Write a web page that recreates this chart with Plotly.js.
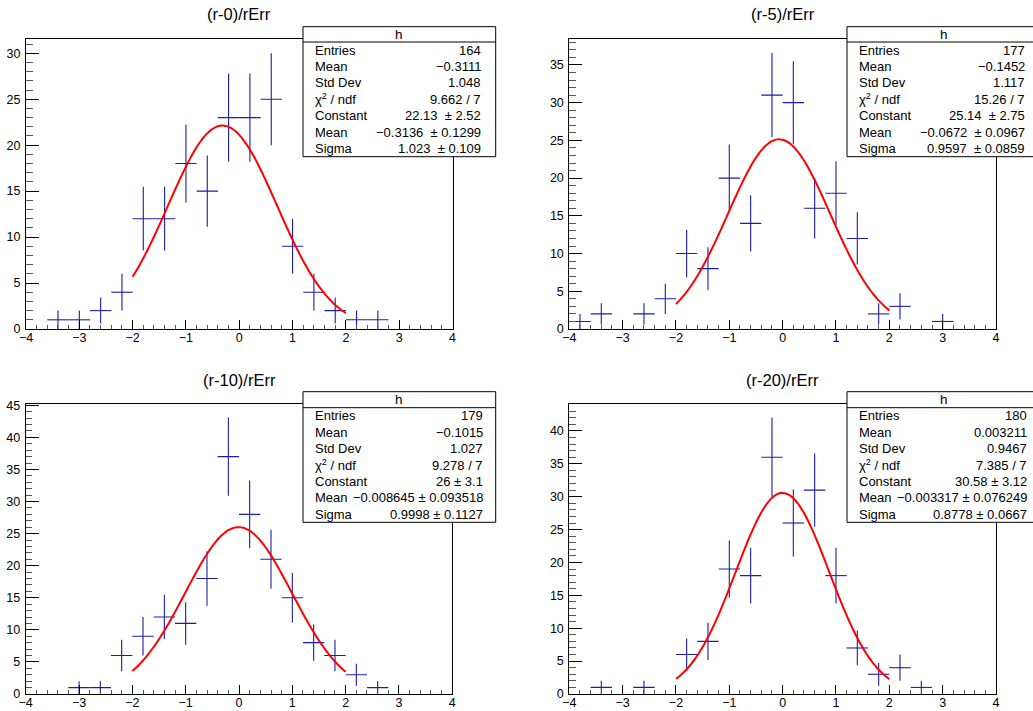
<!DOCTYPE html>
<html>
<head>
<meta charset="utf-8">
<script src="https://cdn.plot.ly/plotly-3.0.1.min.js"></script>
<style>html,body{margin:0;padding:0;background:#fff;}#chart{width:1033px;height:711px;}</style>
</head>
<body>
<div id="chart"></div>
<script>
// ---------------- DATA ----------------
const TITLES = ["(r-0)/rErr", "(r-5)/rErr", "(r-10)/rErr", "(r-20)/rErr"];

// bin centres (bin width 0.4) and counts, non-empty bins only
const X_R0  = [-3.4, -3.0, -2.6, -2.2, -1.8, -1.4, -1.0, -0.6, -0.2, 0.2, 0.6, 1.0, 1.4, 1.8, 2.2, 2.6];
const N_R0  = [1, 1, 2, 4, 12, 12, 18, 15, 23, 23, 25, 9, 4, 2, 1, 1];

const X_R5  = [-3.8, -3.4, -2.6, -2.2, -1.8, -1.4, -1.0, -0.6, -0.2, 0.2, 0.6, 1.0, 1.4, 1.8, 2.2, 3.0];
const N_R5  = [1, 2, 2, 4, 10, 8, 20, 14, 31, 30, 16, 18, 12, 2, 3, 1];

const X_R10 = [-3.0, -2.6, -2.2, -1.8, -1.4, -1.0, -0.6, -0.2, 0.2, 0.6, 1.0, 1.4, 1.8, 2.2, 2.6];
const N_R10 = [1, 1, 6, 9, 12, 11, 18, 37, 28, 21, 15, 8, 6, 3, 1];

const X_R20 = [-3.4, -2.6, -1.8, -1.4, -1.0, -0.6, -0.2, 0.2, 0.6, 1.0, 1.4, 1.8, 2.2, 2.6];
const N_R20 = [1, 1, 6, 8, 19, 18, 36, 26, 31, 18, 7, 3, 4, 1];

// Gaussian fit parameters [Constant, Mean, Sigma], fit range [-2, 2]
const FIT_R0  = [22.13, -0.3136, 1.023];
const FIT_R5  = [25.14, -0.0672, 0.9597];
const FIT_R10 = [26, -0.008645, 0.9998];
const FIT_R20 = [30.58, -0.003317, 0.8778];
const FIT_RANGE = [-2, 2];

// stat box contents
const STAT_LABELS = ["Entries", "Mean", "Std Dev", "\u03c7<sup>2</sup> / ndf", "Constant", "Mean", "Sigma"];
const STATS_R0  = ["164", "\u22120.3111", "1.048", "9.662 / 7", "22.13 \u00a0\u00b1 2.52", "\u22120.3136 \u00a0\u00b1 0.1299", "1.023 \u00a0\u00b1 0.109"];
const STATS_R5  = ["177", "\u22120.1452", "1.117", "15.26 / 7", "25.14 \u00a0\u00b1 2.75", "\u22120.0672 \u00a0\u00b1 0.0967", "0.9597 \u00a0\u00b1 0.0859"];
const STATS_R10 = ["179", "\u22120.1015", "1.027", "9.278 / 7", "26 \u00b1 3.1", "\u22120.008645 \u00b1 0.093518", "0.9998 \u00b1 0.1127"];
const STATS_R20 = ["180", "0.003211", "0.9467", "7.385 / 7", "30.58 \u00b1 3.12", "\u22120.003317 \u00b1 0.076249", "0.8778 \u00b1 0.0667"];

// y-axis maxima as drawn
const YMAX = [31.55, 38.4, 45.2, 44.1];

// ---------------- LAYOUT HELPERS ----------------
const W = 1033, H = 711;
const px = v => v / W;
const py = v => 1 - v / H;
const FONT = "Liberation Sans, Arial, Helvetica, sans-serif";

const panels = [
  {x: X_R0,  n: N_R0,  fit: FIT_R0,  stats: STATS_R0,  frame: [26, 452.5, 39, 329],
   box: [303, 495.7, 26.7, 156.7, 42], lblX: 312.5, valX: 482.5, titleY: 14},
  {x: X_R5,  n: N_R5,  fit: FIT_R5,  stats: STATS_R5,  frame: [569.3, 996, 39.3, 329],
   box: [847, 1040, 26.7, 156.7, 42], lblX: 856.5, valX: 1026.5, titleY: 14},
  {x: X_R10, n: N_R10, fit: FIT_R10, stats: STATS_R10, frame: [25.7, 452.3, 404, 694],
   box: [303, 495.7, 391.7, 522.3, 407.7], lblX: 312.5, valX: 485, titleY: 380},
  {x: X_R20, n: N_R20, fit: FIT_R20, stats: STATS_R20, frame: [569.3, 996, 404, 694],
   box: [847, 1040, 391.7, 522.3, 407.7], lblX: 856.5, valX: 1029.3, titleY: 380}
];

const traces = [];
const layout = {
  width: W, height: H,
  margin: {l: 0, r: 0, t: 0, b: 0},
  paper_bgcolor: "#fff", plot_bgcolor: "#fff",
  showlegend: false,
  font: {family: FONT, size: 12, color: "#000"},
  shapes: [], annotations: []
};

panels.forEach((p, i) => {
  const k = i === 0 ? "" : String(i + 1);
  const xa = "x" + k, ya = "y" + k;
  const [fx0, fx1, fy0, fy1] = p.frame;

  // histogram points with errors
  traces.push({
    type: "scatter", mode: "markers", xaxis: xa, yaxis: ya,
    x: p.x, y: p.n,
    marker: {size: 1, color: "#1c1ca8", opacity: 0},
    error_y: {type: "sqrt", visible: true, color: "#1c1ca8", thickness: 1.1, width: 0},
    error_x: {type: "constant", value: 0.2, visible: true, color: "#1c1ca8", thickness: 1.1, width: 0},
    hoverinfo: "skip"
  });

  // gaussian fit curve evaluated over the fit range
  const [c, m, s] = p.fit;
  const fxs = [], fys = [];
  const npx = 100;
  for (let j = 0; j <= npx; j++) {
    const xv = FIT_RANGE[0] + (FIT_RANGE[1] - FIT_RANGE[0]) * j / npx;
    fxs.push(xv);
    fys.push(c * Math.exp(-0.5 * Math.pow((xv - m) / s, 2)));
  }
  traces.push({
    type: "scatter", mode: "lines", xaxis: xa, yaxis: ya,
    x: fxs, y: fys, line: {color: "#ff0000", width: 2, shape: "spline"},
    hoverinfo: "skip"
  });

  layout["xaxis" + k] = {
    domain: [px(fx0), px(fx1)], anchor: ya, range: [-4, 4],
    showgrid: false, zeroline: false,
    showline: true, linecolor: "#000", linewidth: 1, mirror: true,
    ticks: "inside", ticklen: 9, tickwidth: 1, tickcolor: "#000",
    dtick: 1, tick0: 0, tickfont: {family: FONT, size: 12.5, color: "#000"},
    ticklabelstandoff: -3,
    minor: {dtick: 0.2, ticks: "inside", ticklen: 4.5, tickcolor: "#555", tickwidth: 1, showgrid: false},
    fixedrange: true
  };
  layout["yaxis" + k] = {
    domain: [py(fy1), py(fy0)], anchor: xa, range: [0, YMAX[i]],
    showgrid: false, zeroline: false,
    showline: true, linecolor: "#000", linewidth: 1, mirror: true,
    ticks: "inside", ticklen: 13, tickwidth: 1, tickcolor: "#000",
    dtick: 5, tick0: 0, tickfont: {family: FONT, size: 12.5, color: "#000"},
    minor: {dtick: 1, ticks: "inside", ticklen: 6.5, tickcolor: "#555", tickwidth: 1, showgrid: false},
    ticklabelstandoff: 2,
    fixedrange: true
  };

  // title
  layout.annotations.push({
    xref: "paper", yref: "paper", x: px((fx0 + fx1) / 2), y: py(p.titleY),
    xanchor: "center", yanchor: "middle", showarrow: false,
    text: TITLES[i], font: {family: FONT, size: 16.5, color: "#000"}
  });

  // stat box
  const [bx0, bx1, by0, by1, bh] = p.box;
  layout.shapes.push({
    type: "rect", xref: "paper", yref: "paper", layer: "above",
    x0: px(bx0), x1: px(bx1), y0: py(by1), y1: py(by0),
    line: {color: "#000", width: 1}, fillcolor: "#fff"
  });
  layout.shapes.push({
    type: "line", xref: "paper", yref: "paper", layer: "above",
    x0: px(bx0), x1: px(bx1), y0: py(bh), y1: py(bh),
    line: {color: "#000", width: 1}
  });
  layout.annotations.push({
    xref: "paper", yref: "paper", x: px((bx0 + bx1) / 2),
    y: py((by0 + bh) / 2), xanchor: "center", yanchor: "middle", showarrow: false,
    text: "h", font: {family: FONT, size: 13.5, color: "#000"}
  });
  const rowH = (by1 - bh) / STAT_LABELS.length;
  STAT_LABELS.forEach((lab, r) => {
    const yc = bh + rowH * (r + 0.5);
    layout.annotations.push({
      xref: "paper", yref: "paper", x: px(p.lblX), y: py(yc),
      xanchor: "left", yanchor: "middle", showarrow: false,
      text: lab, font: {family: FONT, size: 13, color: "#000"}
    });
    layout.annotations.push({
      xref: "paper", yref: "paper", x: px(p.valX), y: py(yc),
      xanchor: "right", yanchor: "middle", showarrow: false,
      text: p.stats[r], font: {family: FONT, size: 13, color: "#000"}
    });
  });
});

Plotly.newPlot("chart", traces, layout, {displayModeBar: false, staticPlot: true});
</script>
</body>
</html>
